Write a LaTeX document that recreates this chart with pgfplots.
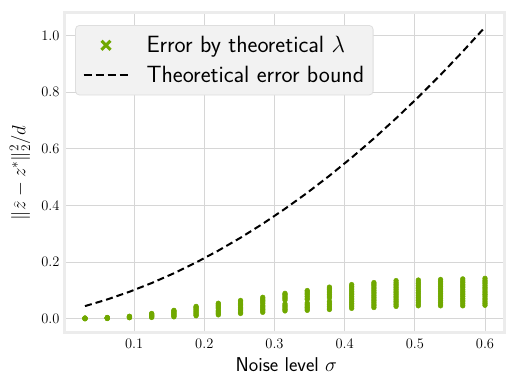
\RequirePackage{fix-cm}
\documentclass[border=0pt]{standalone}
\usepackage{pgfplots}
\pgfplotsset{compat=1.18}
\definecolor{ptgreen}{RGB}{112,168,0}
\definecolor{gridgray}{RGB}{214,214,214}
\definecolor{spinegray}{RGB}{236,236,236}
\definecolor{legfill}{RGB}{242,242,242}
\definecolor{legdraw}{RGB}{222,222,222}
\begin{document}
\begin{tikzpicture}[x=1pt,y=1pt]
\useasboundingbox (0,0) rectangle (507,375);
\begin{axis}[
  at={(65pt,42pt)}, anchor=south west,
  scale only axis, width=440pt, height=320pt,
  xmin=0.0015, xmax=0.6285, ymin=-0.05, ymax=1.08,
  axis line style={spinegray, line width=3pt},
  grid=major, grid style={gridgray, line width=0.9pt},
  major tick length=0pt,
  xtick={0.1,0.2,0.3,0.4,0.5,0.6},
  ytick={0,0.2,0.4,0.6,0.8,1.0},
  xticklabel style={/pgf/number format/fixed, /pgf/number format/precision=1, /pgf/number format/fixed zerofill, font=\fontsize{14.5}{16}\selectfont, yshift=-3pt},
  yticklabel style={/pgf/number format/fixed, /pgf/number format/precision=1, /pgf/number format/fixed zerofill, font=\fontsize{14.5}{16}\selectfont, xshift=-2pt},
  xlabel={\sffamily Noise level $\sigma$},
  ylabel={$\|\widehat{z}-z^*\|_2^2/d$},
  xlabel style={font=\fontsize{20}{22}\selectfont, at={(axis description cs:0.503,0)}, anchor=base, yshift=-39pt},
  ylabel style={font=\fontsize{19}{21}\selectfont, at={(axis description cs:-0.1023,0.5)}, anchor=center},
  legend style={at={(rel axis cs:0.023,0.9625)}, anchor=north west, fill=legfill, draw=legdraw, line width=0.8pt, rounded corners=4pt, font=\sffamily\fontsize{23.5}{27}\selectfont, inner xsep=7pt, inner ysep=9pt, row sep=8pt},
  legend cell align=left,
]
\addplot[only marks, mark=*, mark size=2.4pt, color=ptgreen,
  legend image code/.code={\draw[ptgreen, line width=3pt] (18pt,-4.5pt)--(27pt,4.5pt) (18pt,4.5pt)--(27pt,-4.5pt); \path[draw=none] (0pt,0pt)--(61pt,0pt);}]
coordinates {
(0.03,0.000)(0.03,0.001)(0.03,0.001)(0.03,0.002)(0.03,0.002)(0.03,0.003)
(0.0617,0.001)(0.0617,0.002)(0.0617,0.003)(0.0617,0.003)(0.0617,0.004)(0.0617,0.005)
(0.0933,0.004)(0.0933,0.005)(0.0933,0.006)(0.0933,0.007)(0.0933,0.008)(0.0933,0.009)
(0.125,0.005)(0.125,0.007)(0.125,0.009)(0.125,0.011)(0.125,0.013)(0.125,0.015)(0.125,0.017)(0.125,0.019)
(0.1567,0.007)(0.1567,0.010)(0.1567,0.013)(0.1567,0.016)(0.1567,0.019)(0.1567,0.022)(0.1567,0.025)(0.1567,0.028)(0.1567,0.030)
(0.1883,0.011)(0.1883,0.014)(0.1883,0.018)(0.1883,0.022)(0.1883,0.026)(0.1883,0.030)(0.1883,0.034)(0.1883,0.038)(0.1883,0.041)(0.1883,0.044)
(0.22,0.014)(0.22,0.018)(0.22,0.022)(0.22,0.026)(0.22,0.030)(0.22,0.036)(0.22,0.040)(0.22,0.044)(0.22,0.048)(0.22,0.052)(0.22,0.055)
(0.2517,0.019)(0.2517,0.023)(0.2517,0.028)(0.2517,0.032)(0.2517,0.036)(0.2517,0.040)(0.2517,0.046)(0.2517,0.050)(0.2517,0.055)(0.2517,0.060)(0.2517,0.065)
(0.2833,0.023)(0.2833,0.028)(0.2833,0.033)(0.2833,0.038)(0.2833,0.043)(0.2833,0.048)(0.2833,0.055)(0.2833,0.060)(0.2833,0.065)(0.2833,0.070)(0.2833,0.076)
(0.315,0.028)(0.315,0.033)(0.315,0.038)(0.315,0.043)(0.315,0.048)(0.315,0.053)(0.315,0.066)(0.315,0.071)(0.315,0.076)(0.315,0.081)(0.315,0.086)(0.315,0.090)
(0.3467,0.030)(0.3467,0.035)(0.3467,0.040)(0.3467,0.045)(0.3467,0.050)(0.3467,0.056)(0.3467,0.068)(0.3467,0.073)(0.3467,0.079)(0.3467,0.085)(0.3467,0.090)(0.3467,0.095)(0.3467,0.100)
(0.3783,0.033)(0.3783,0.038)(0.3783,0.044)(0.3783,0.050)(0.3783,0.056)(0.3783,0.062)(0.3783,0.074)(0.3783,0.080)(0.3783,0.086)(0.3783,0.092)(0.3783,0.098)(0.3783,0.104)(0.3783,0.108)(0.3783,0.112)
(0.41,0.037)(0.41,0.043)(0.41,0.049)(0.41,0.055)(0.41,0.061)(0.41,0.067)(0.41,0.073)(0.41,0.079)(0.41,0.085)(0.41,0.091)(0.41,0.097)(0.41,0.103)(0.41,0.109)(0.41,0.115)(0.41,0.121)
(0.4417,0.040)(0.4417,0.046)(0.4417,0.052)(0.4417,0.058)(0.4417,0.064)(0.4417,0.070)(0.4417,0.076)(0.4417,0.082)(0.4417,0.088)(0.4417,0.094)(0.4417,0.100)(0.4417,0.106)(0.4417,0.112)(0.4417,0.118)(0.4417,0.123)(0.4417,0.128)
(0.4733,0.044)(0.4733,0.050)(0.4733,0.056)(0.4733,0.062)(0.4733,0.068)(0.4733,0.074)(0.4733,0.080)(0.4733,0.086)(0.4733,0.092)(0.4733,0.098)(0.4733,0.104)(0.4733,0.110)(0.4733,0.116)(0.4733,0.122)(0.4733,0.128)(0.4733,0.135)
(0.505,0.046)(0.505,0.052)(0.505,0.058)(0.505,0.064)(0.505,0.070)(0.505,0.076)(0.505,0.082)(0.505,0.088)(0.505,0.094)(0.505,0.100)(0.505,0.106)(0.505,0.112)(0.505,0.118)(0.505,0.124)(0.505,0.130)(0.505,0.137)
(0.5367,0.046)(0.5367,0.052)(0.5367,0.058)(0.5367,0.065)(0.5367,0.072)(0.5367,0.078)(0.5367,0.084)(0.5367,0.090)(0.5367,0.096)(0.5367,0.102)(0.5367,0.108)(0.5367,0.114)(0.5367,0.120)(0.5367,0.126)(0.5367,0.132)(0.5367,0.139)
(0.5683,0.046)(0.5683,0.053)(0.5683,0.060)(0.5683,0.066)(0.5683,0.072)(0.5683,0.079)(0.5683,0.085)(0.5683,0.091)(0.5683,0.097)(0.5683,0.103)(0.5683,0.110)(0.5683,0.116)(0.5683,0.122)(0.5683,0.128)(0.5683,0.134)(0.5683,0.141)
(0.6,0.048)(0.6,0.054)(0.6,0.060)(0.6,0.067)(0.6,0.073)(0.6,0.080)(0.6,0.086)(0.6,0.092)(0.6,0.098)(0.6,0.105)(0.6,0.111)(0.6,0.117)(0.6,0.124)(0.6,0.130)(0.6,0.136)(0.6,0.143)
};
\addlegendentry{Error by theoretical $\lambda$}
\addplot[black, line width=2pt, dash pattern=on 7pt off 4pt,
  legend image code/.code={\draw[black, line width=2pt, dash pattern=on 8pt off 4pt] (0pt,0pt)--(46pt,0pt); \path[draw=none] (0pt,0pt)--(61pt,0pt);}]
coordinates {
(0.03,0.045)(0.0617,0.0685)(0.0933,0.0956)(0.125,0.1264)(0.1567,0.1609)(0.1883,0.1990)(0.22,0.2410)(0.2517,0.2865)(0.2833,0.3356)(0.315,0.3886)(0.3467,0.4451)(0.3783,0.5053)(0.41,0.5693)(0.4417,0.6369)(0.4733,0.7081)(0.505,0.7831)(0.5367,0.8617)(0.5683,0.9440)(0.6,1.030)
};
\addlegendentry{Theoretical error bound}
\end{axis}
\end{tikzpicture}
\end{document}
